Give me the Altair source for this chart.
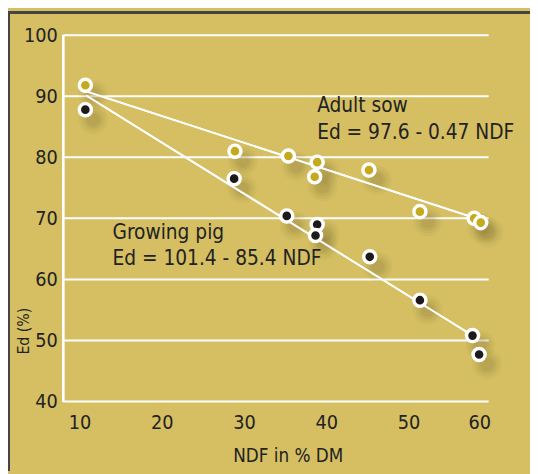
import altair as alt
import pandas as pd

# Data
sow_ndf = [10.7, 28.9, 35.4, 38.9, 38.6, 45.2, 51.4, 58.0, 58.8]
sow_ed = [91.8, 81.0, 80.2, 79.2, 76.8, 77.9, 71.1, 70.0, 69.3]
pig_ndf = [10.7, 28.8, 35.2, 38.9, 38.7, 45.3, 51.4, 57.8, 58.6]
pig_ed = [87.8, 76.5, 70.4, 69.0, 67.2, 63.7, 56.6, 50.8, 47.7]

# Fitted lines as drawn
sow_line_x = [10.8, 58.7]
sow_line_y = [90.8, 69.8]
pig_line_x = [10.8, 57.8]
pig_line_y = [90.1, 50.8]

grid_vals = [40, 50, 60, 70, 80, 90, 100]
x_ticks = [10, 20, 30, 40, 50, 60]
y_ticks = [40, 50, 60, 70, 80, 90, 100]

labels_text = ["Adult sow", "Ed = 97.6 - 0.47 NDF", "Growing pig", "Ed = 101.4 - 85.4 NDF"]
labels_x = [38.9, 38.9, 14.0, 14.0]
labels_y = [88.4, 84.0, 67.6, 63.4]

BG = "#D5BF62"
FONT = "DejaVu Sans Condensed, Roboto, sans-serif"

xs = alt.Scale(domain=[8, 60], nice=False, zero=False)
ys = alt.Scale(domain=[40, 100], nice=False, zero=False)

sow = pd.DataFrame({"x": sow_ndf, "y": sow_ed})
pig = pd.DataFrame({"x": pig_ndf, "y": pig_ed})
both = pd.concat([sow, pig], ignore_index=True)
grid = pd.DataFrame({"y": grid_vals})
lines = pd.DataFrame({
    "x": sow_line_x + pig_line_x,
    "y": sow_line_y + pig_line_y,
    "g": ["sow", "sow", "pig", "pig"],
})
labels = pd.DataFrame({"t": labels_text, "x": labels_x, "y": labels_y})

X = alt.X("x:Q", scale=xs, axis=alt.Axis(values=x_ticks, title="NDF in % DM", domain=False, ticks=False,
                                          grid=False, labelFontSize=20, labelPadding=11, titleFontSize=19,
                                          titlePadding=15, labelColor="#222", titleColor="#222",
                                          labelFont=FONT, titleFont=FONT, titleFontWeight="normal",
                                          titleX=228))
Y = alt.Y("y:Q", scale=ys, axis=alt.Axis(values=y_ticks, title="Ed (%)", domain=False, ticks=False,
                                          grid=False, labelFontSize=20, labelPadding=6, titleFontSize=16,
                                          labelColor="#222", titleColor="#222",
                                          labelFont=FONT, titleFont=FONT, titleFontWeight="normal",
                                          titleX=-32, titleY=300, titleAngle=270, titleAlign="center",
                                          titleBaseline="bottom"))

grid_layer = alt.Chart(grid).mark_rule(color="white", strokeWidth=2).encode(
    y=alt.Y("y:Q", scale=ys), x=alt.value(0), x2=alt.value(432))
yaxis_line = alt.Chart(grid).mark_rule(color="white", strokeWidth=2).encode(
    x=alt.value(0), y=alt.value(0), y2=alt.value(372))

base = alt.Chart(lines).mark_line(color="white", strokeWidth=1.8).encode(
    x=X, y=Y, detail="g:N")

shadows = []
for sz, op in [(900, 0.05), (600, 0.06), (350, 0.08), (180, 0.09)]:
    shadows.append(alt.Chart(both).mark_circle(color="#6a5a28", opacity=op, size=sz,
                                               xOffset=8, yOffset=10).encode(
        x=alt.X("x:Q", scale=xs), y=alt.Y("y:Q", scale=ys)))

pts_sow = alt.Chart(sow).mark_point(filled=True, fill="#C4AA1C", stroke="white", strokeWidth=3.5,
                                    size=150, opacity=1).encode(
    x=alt.X("x:Q", scale=xs), y=alt.Y("y:Q", scale=ys))
pts_pig = alt.Chart(pig).mark_point(filled=True, fill="#1E1A1A", stroke="white", strokeWidth=3.5,
                                    size=150, opacity=1).encode(
    x=alt.X("x:Q", scale=xs), y=alt.Y("y:Q", scale=ys))

txt = alt.Chart(labels).mark_text(align="left", baseline="middle", fontSize=21, font=FONT,
                                  color="#222").encode(
    x=alt.X("x:Q", scale=xs), y=alt.Y("y:Q", scale=ys), text="t:N")

border_top = alt.Chart(grid).mark_rule(color="#444", strokeWidth=2).encode(
    x=alt.value(-56), x2=alt.value(474), y=alt.value(-23))
border_left = alt.Chart(grid).mark_rule(color="#444", strokeWidth=2).encode(
    x=alt.value(-55), y=alt.value(-23), y2=alt.value(442))

chart = alt.layer(
    base, grid_layer, yaxis_line, *shadows, base, pts_sow, pts_pig, txt,
    border_top, border_left
).properties(
    width=434, height=372,
    padding={"left": 56, "top": 24, "right": 40, "bottom": 70},
    autosize=alt.AutoSizeParams(type="none"),
    background=BG,
).configure_view(stroke=None)

chart.save("out.html", embed_options={"renderer": "svg", "actions": False})
